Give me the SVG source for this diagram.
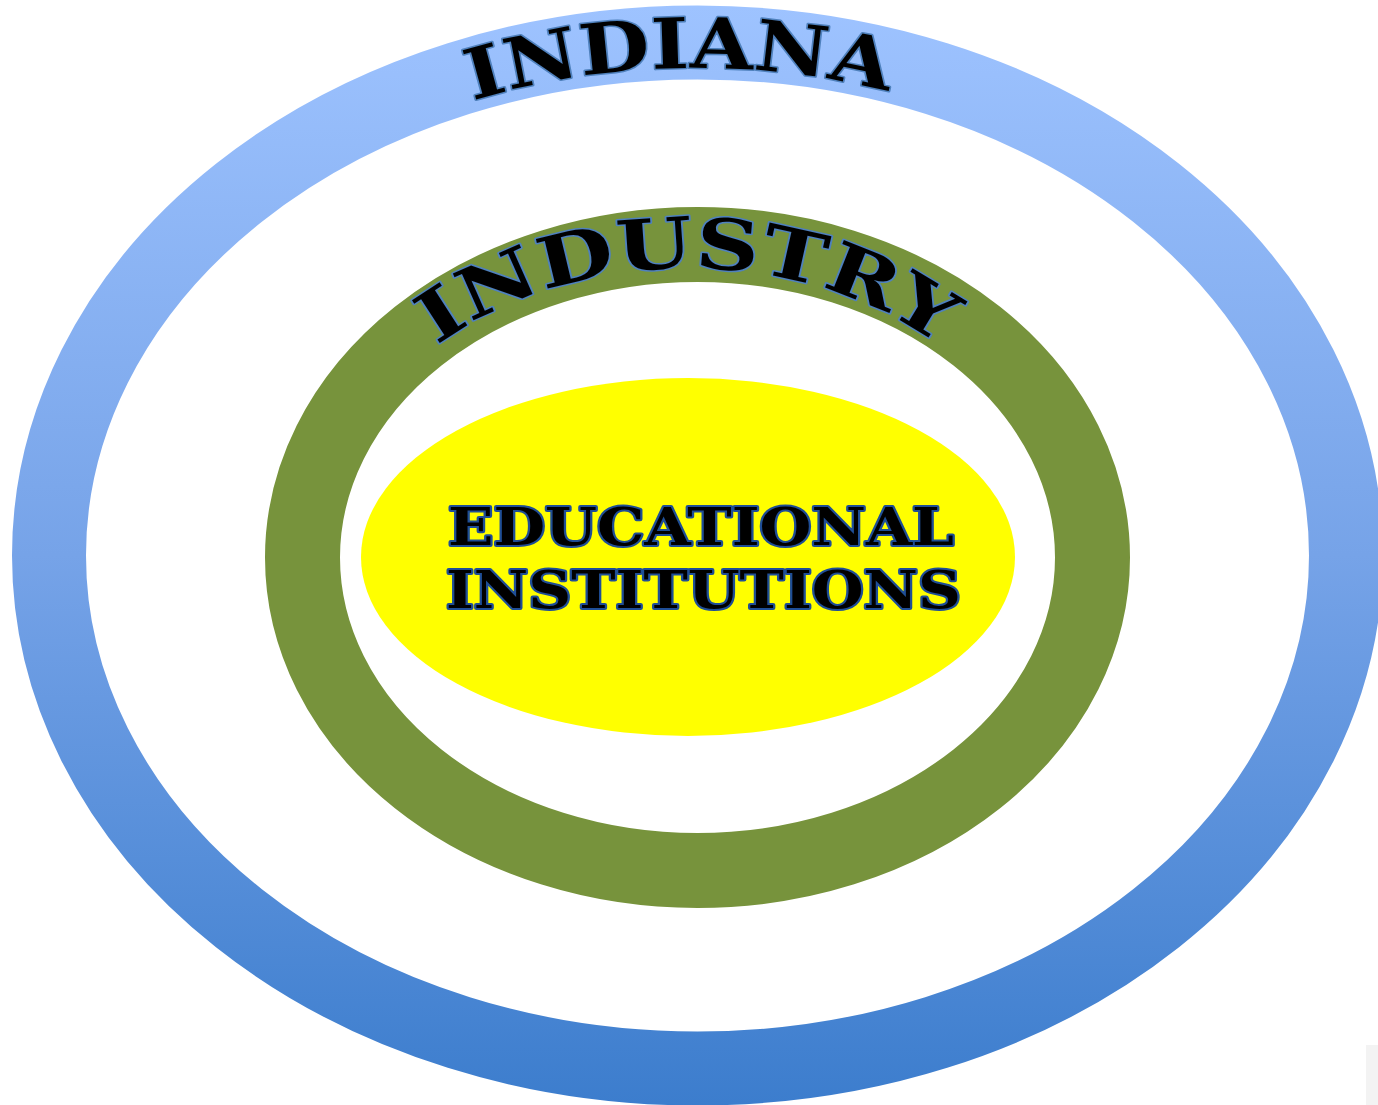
<svg xmlns="http://www.w3.org/2000/svg" xmlns:xlink="http://www.w3.org/1999/xlink" width="1378" height="1105" viewBox="0 0 1378 1105">
  <style>
    .arc { font-family: "DejaVu Serif", "Liberation Serif", serif; font-weight: bold; font-size: 70px; fill: #000; stroke: #4F81BD; stroke-width: 3; paint-order: stroke; stroke-linejoin: round; }
    .edu { font-family: "DejaVu Serif", "Liberation Serif", serif; font-weight: bold; font-size: 52px; fill: #000; stroke: #1F4E96; stroke-width: 4; paint-order: stroke; stroke-linejoin: round; }
  </style>
  <defs>
    <linearGradient id="blueGrad" gradientUnits="userSpaceOnUse" x1="0" y1="5" x2="0" y2="1105">
      <stop offset="0" stop-color="#9EC3FF"/>
      <stop offset="0.5" stop-color="#76A3E8"/>
      <stop offset="1" stop-color="#3C7DCD"/>
    </linearGradient>
    <path id="indianaPath" d="M 74 556 A 623 488 0 0 1 1320 556"/>
    <path id="industryPath" d="M 318 560 A 370 292 0 0 1 1058 560"/>
  </defs>
  <rect x="0" y="0" width="1378" height="1105" fill="#FFFFFF"/>
  <rect x="1366" y="1045" width="12" height="60" fill="#F3F3F3"/>

  <g id="indiana">
    <ellipse cx="697.5" cy="555.5" rx="648.5" ry="513" fill="none" stroke="url(#blueGrad)" stroke-width="74"/>
    <text class="arc"><textPath xlink:href="#indianaPath" href="#indianaPath" startOffset="49%" text-anchor="middle" textLength="420" lengthAdjust="spacingAndGlyphs">INDIANA</textPath></text>
  </g>

  <g id="industry">
    <ellipse cx="697.5" cy="557.5" rx="395" ry="313" fill="none" stroke="#77933C" stroke-width="75"/>
    <text class="arc"><textPath xlink:href="#industryPath" href="#industryPath" startOffset="50%" text-anchor="middle" textLength="535" lengthAdjust="spacingAndGlyphs">INDUSTRY</textPath></text>
  </g>

  <g id="educational-institutions">
    <ellipse cx="688" cy="557" rx="327" ry="179" fill="#FFFF00"/>
    <text class="edu" x="448" y="545" textLength="506" lengthAdjust="spacingAndGlyphs">EDUCATIONAL</text>
    <text class="edu" x="446" y="608" textLength="515" lengthAdjust="spacingAndGlyphs">INSTITUTIONS</text>
  </g>

  <g id="connectors"></g>
</svg>
